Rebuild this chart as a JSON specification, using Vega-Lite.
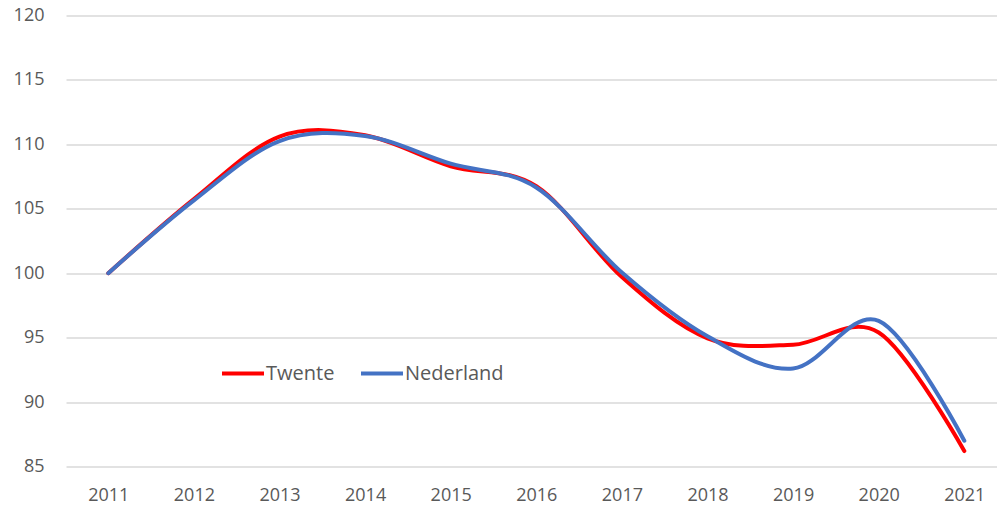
{
  "$schema": "https://vega.github.io/schema/vega-lite/v6.json",
  "width": 931,
  "height": 451,
  "autosize": {"type": "none"},
  "padding": {"left": 66, "top": 15.5, "right": 0, "bottom": 41.5},
  "background": "white",
  "data": {
    "values": [
      {"jaar": 2011, "regio": "Twente", "index": 100},
      {"jaar": 2012, "regio": "Twente", "index": 105.75},
      {"jaar": 2013, "regio": "Twente", "index": 110.6},
      {"jaar": 2014, "regio": "Twente", "index": 110.7},
      {"jaar": 2015, "regio": "Twente", "index": 108.3},
      {"jaar": 2016, "regio": "Twente", "index": 106.75},
      {"jaar": 2017, "regio": "Twente", "index": 99.7},
      {"jaar": 2018, "regio": "Twente", "index": 94.95},
      {"jaar": 2019, "regio": "Twente", "index": 94.45},
      {"jaar": 2020, "regio": "Twente", "index": 95.4},
      {"jaar": 2021, "regio": "Twente", "index": 86.2},
      {"jaar": 2011, "regio": "Nederland", "index": 100},
      {"jaar": 2012, "regio": "Nederland", "index": 105.65},
      {"jaar": 2013, "regio": "Nederland", "index": 110.25},
      {"jaar": 2014, "regio": "Nederland", "index": 110.65},
      {"jaar": 2015, "regio": "Nederland", "index": 108.5},
      {"jaar": 2016, "regio": "Nederland", "index": 106.65},
      {"jaar": 2017, "regio": "Nederland", "index": 100.05},
      {"jaar": 2018, "regio": "Nederland", "index": 95.1},
      {"jaar": 2019, "regio": "Nederland", "index": 92.6},
      {"jaar": 2020, "regio": "Nederland", "index": 96.3},
      {"jaar": 2021, "regio": "Nederland", "index": 87.0}
    ]
  },
  "encoding": {
    "x": {
      "field": "jaar",
      "type": "quantitative",
      "scale": {"domain": [2010.506, 2021.382], "nice": false, "zero": false},
      "axis": {
        "title": null,
        "values": [2011, 2012, 2013, 2014, 2015, 2016, 2017, 2018, 2019, 2020, 2021],
        "format": "d",
        "grid": false,
        "domain": false,
        "ticks": false,
        "labelAngle": 0,
        "labelFont": "Open Sans",
        "labelFontSize": 18,
        "labelColor": "#595959",
        "labelPadding": 20
      }
    },
    "y": {
      "field": "index",
      "type": "quantitative",
      "scale": {"domain": [85, 120], "nice": false, "zero": false},
      "axis": {
        "title": null,
        "values": [85, 90, 95, 100, 105, 110, 115, 120],
        "grid": true,
        "gridColor": "#d9d9d9",
        "gridWidth": 1.3,
        "domain": false,
        "ticks": false,
        "labelFont": "Open Sans",
        "labelFontSize": 18,
        "labelColor": "#595959",
        "labelPadding": 22
      }
    },
    "color": {
      "field": "regio",
      "type": "nominal",
      "scale": {"domain": ["Twente", "Nederland"], "range": ["#FF0000", "#4472C4"]},
      "legend": {
        "title": null,
        "orient": "none",
        "legendX": 154,
        "legendY": 335,
        "direction": "horizontal",
        "symbolType": "stroke",
        "symbolSize": 1764,
        "symbolStrokeWidth": 4,
        "labelFont": "Open Sans",
        "labelFontSize": 20,
        "labelColor": "#595959",
        "labelOffset": 0,
        "columnPadding": 18
      }
    }
  },
  "layer": [
    {
      "transform": [{"filter": "datum.regio === 'Twente'"}],
      "mark": {"type": "line", "interpolate": "cardinal", "strokeWidth": 4, "strokeCap": "round"}
    },
    {
      "transform": [{"filter": "datum.regio === 'Nederland'"}],
      "mark": {"type": "line", "interpolate": "cardinal", "strokeWidth": 4, "strokeCap": "round"}
    }
  ],
  "config": {"view": {"stroke": null}}
}
